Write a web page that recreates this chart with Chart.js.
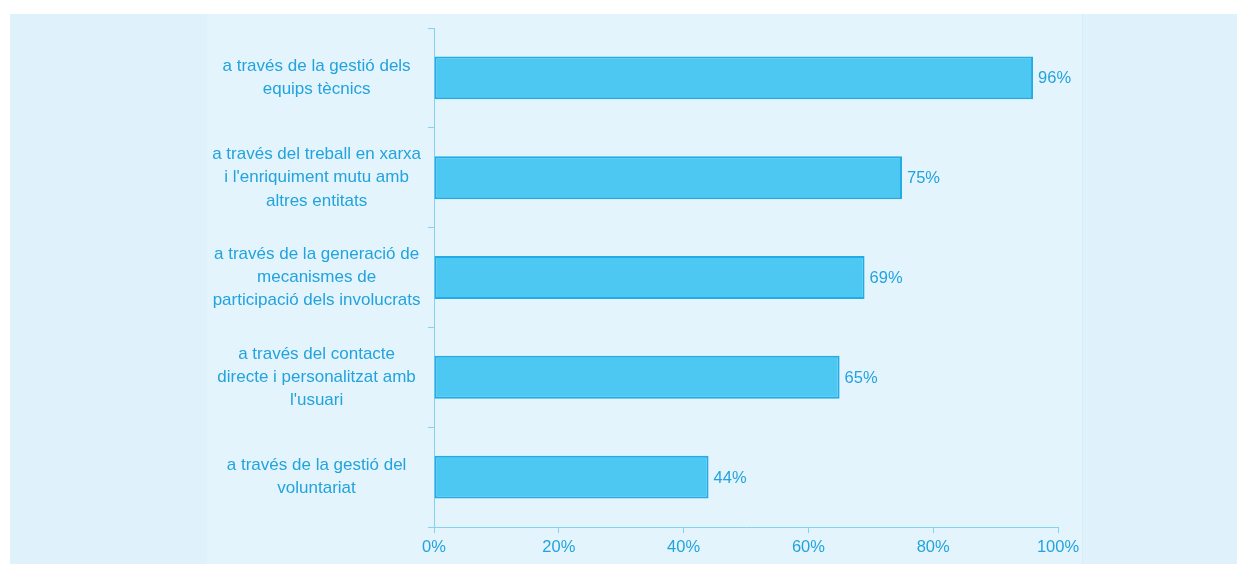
<!DOCTYPE html>
<html>
<head>
<meta charset="utf-8">
<script src="https://cdn.jsdelivr.net/npm/chart.js@4/dist/chart.umd.min.js"></script>
<style>
  html, body { margin: 0; padding: 0; background: #ffffff; }
  #panel { position: absolute; left: 10px; top: 14px; width: 1227px; height: 550px; background: #dff2fc; }
  #inner { position: absolute; left: 197px; top: 0; width: 875px; height: 550px; background: #e4f4fd; border-right: 1px solid #d6eefa; }
  #wrap { position: absolute; left: 0; top: 0; width: 1227px; height: 550px; }
</style>
</head>
<body>
<div id="panel">
  <div id="inner"></div>
  <div id="wrap"><canvas id="barChart"></canvas></div>
</div>
<script>
const categories = [
  ["a través de la gestió dels", "equips tècnics"],
  ["a través del treball en xarxa", "i l'enriquiment mutu amb", "altres entitats"],
  ["a través de la generació de", "mecanismes de", "participació dels involucrats"],
  ["a través del contacte", "directe i personalitzat amb", "l'usuari"],
  ["a través de la gestió del", "voluntariat"]
];
const values = [96, 75, 69, 65, 44];
const xTicks = [0, 20, 40, 60, 80, 100];

const textColor = "#22a3dd";
const lineColor = "#86d1ef";
const family = "'Liberation Sans', Arial, sans-serif";

// draws the "NN%" label just past the end of each bar
const valueLabels = {
  id: "valueLabels",
  afterDatasetsDraw(chart) {
    const ctx = chart.ctx;
    const meta = chart.getDatasetMeta(0);
    ctx.save();
    ctx.font = "16.5px " + family;
    ctx.fillStyle = textColor;
    ctx.textAlign = "left";
    ctx.textBaseline = "middle";
    meta.data.forEach((bar, i) => {
      ctx.fillText(values[i] + "%", bar.x + 5, bar.y + 1);
    });
    ctx.restore();
  }
};

const ctx = document.getElementById("barChart").getContext("2d");
const chart = new Chart(ctx, {
  type: "bar",
  data: {
    labels: categories,
    datasets: [
      {
        data: values,
        backgroundColor: "#4dc8f3",
        borderColor: "#22abe4",
        borderWidth: 2,
        borderSkipped: false,
        categoryPercentage: 1,
        barPercentage: 0.43,
      },
    ],
  },
  options: {
    indexAxis: "y",
    responsive: true,
    maintainAspectRatio: false,
    animation: false,
    layout: { padding: { top: 14, right: 179, bottom: 0, left: 0 } },
    plugins: {
      legend: { display: false },
      tooltip: { enabled: false },
    },
    scales: {
      x: {
        min: 0,
        max: 100,
        afterBuildTicks(scale) {
          scale.ticks = xTicks.map((v) => ({ value: v }));
        },
        afterFit(scale) {
          scale.height = 37;
        },
        ticks: {
          color: textColor,
          font: { family: family, size: 16.5 },
          padding: 5,
          callback: (v) => v + "%",
        },
        grid: { drawOnChartArea: false, tickLength: 6, color: lineColor },
        border: { color: lineColor, width: 1 },
      },
      y: {
        afterFit(scale) {
          scale.width = 424;
          scale.paddingTop = 0;
          scale.paddingBottom = 0;
        },
        ticks: {
          color: textColor,
          font: { family: family, size: 17, lineHeight: 1.36 },
          crossAlign: "center",
          padding: 7,
        },
        grid: { drawOnChartArea: false, tickLength: 6, color: lineColor, offset: true },
        border: { color: lineColor, width: 1 },
      },
    },
  },
  plugins: [valueLabels],
});
</script>
</body>
</html>
